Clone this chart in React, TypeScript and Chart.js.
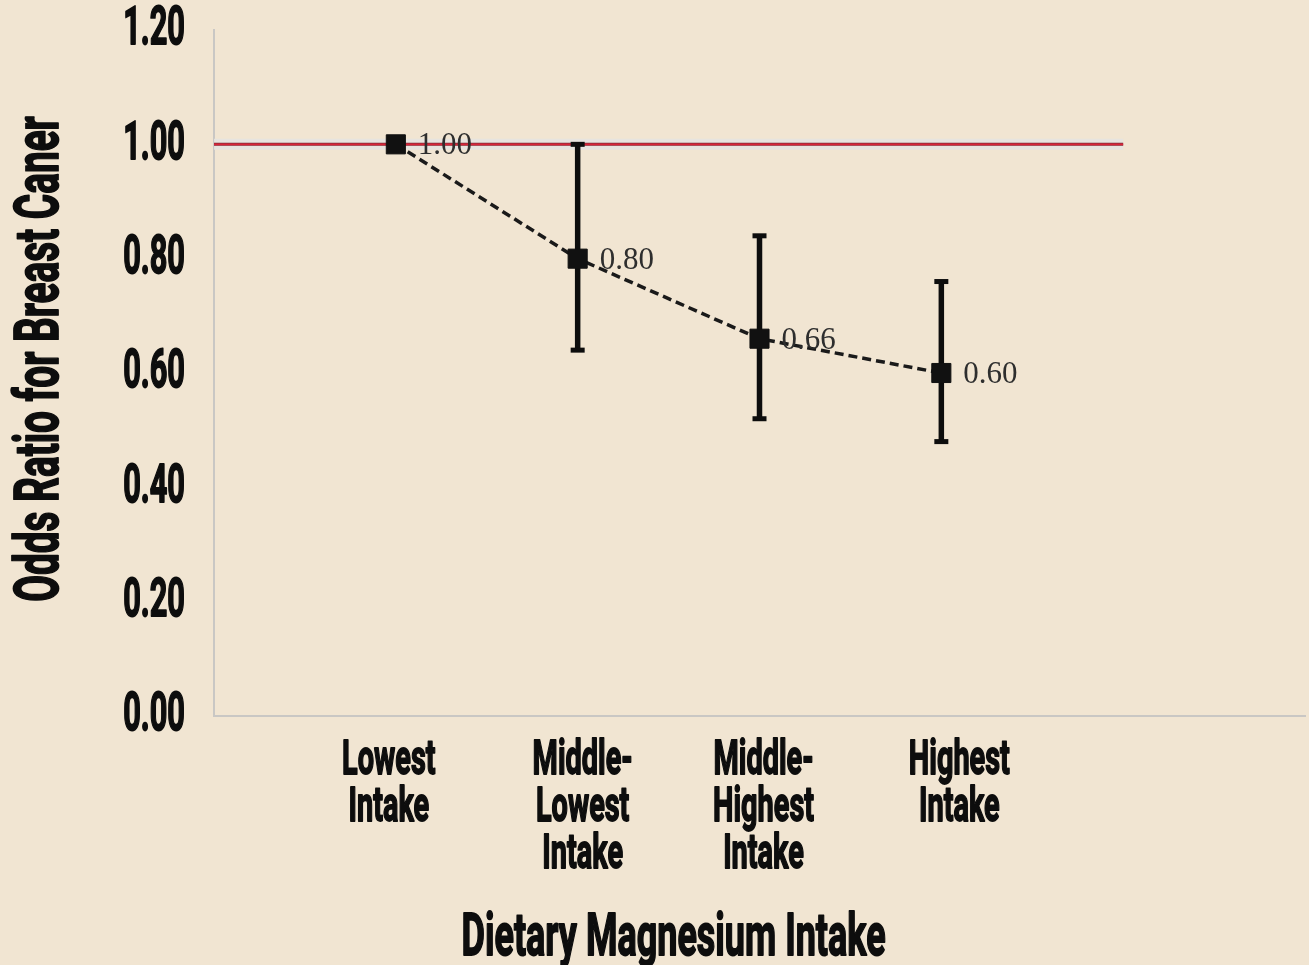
import { useEffect, useRef } from "react";
import { Chart, registerables } from "chart.js";

Chart.register(...registerables);

// ---------- data ----------
const categoryLines: string[][] = [
  ["Lowest", "Intake"],
  ["Middle-", "Lowest", "Intake"],
  ["Middle-", "Highest", "Intake"],
  ["Highest", "Intake"],
];
const categoryPositions = [1, 2, 3, 4];
const oddsRatios = [1.0, 0.8, 0.66, 0.6];
const ciLower: (number | null)[] = [null, 0.64, 0.52, 0.48];
const ciUpper: (number | null)[] = [null, 1.0, 0.84, 0.76];
const yTickValues = [0, 0.2, 0.4, 0.6, 0.8, 1.0, 1.2];
const referenceValue = 1.0;
const referenceSpan = [0, 5];
const xAxisRange = [0, 6];
const xTitle = "Dietary Magnesium Intake";
const yTitle = "Odds Ratio for Breast Caner";

// ---------- styles ----------
const BG = "#f1e5d2";
const INK = "#0d0d0d";
const SANS = "Roboto, 'Liberation Sans', sans-serif";
const labelNudgePx = [-7, 5, 4, 18];

function drawCondensed(
  ctx: CanvasRenderingContext2D,
  text: string,
  x: number,
  y: number,
  size: number,
  sx: number,
  align: CanvasTextAlign,
  baseline: CanvasTextBaseline,
  rotate = 0
) {
  ctx.save();
  ctx.translate(x, y);
  if (rotate) ctx.rotate(rotate);
  ctx.scale(sx, 1);
  ctx.font = `bold ${size}px ${SANS}`;
  ctx.fillStyle = INK;
  ctx.strokeStyle = INK;
  ctx.lineWidth = 1.8;
  ctx.lineJoin = "round";
  ctx.textAlign = align;
  ctx.textBaseline = baseline;
  ctx.strokeText(text, 0, 0);
  ctx.fillText(text, 0, 0);
  ctx.restore();
}

const textLayer = {
  id: "textLayer",
  afterDraw(chart: any) {
    const ctx: CanvasRenderingContext2D = chart.ctx;
    const xs = chart.scales.x;
    const ys = chart.scales.y;
    const area = chart.chartArea;

    // y tick labels
    yTickValues.forEach((v) => {
      drawCondensed(ctx, v.toFixed(2), area.left - 29, ys.getPixelForValue(v) + 1, 53, 0.58, "right", "middle");
    });

    // category labels
    categoryLines.forEach((lines, i) => {
      const x = xs.getPixelForValue(categoryPositions[i]) + labelNudgePx[i];
      lines.forEach((line, j) => {
        drawCondensed(ctx, line, x, area.bottom + 58 + j * 47, 49, 0.59, "center", "alphabetic");
      });
    });

    // x title
    const xMid =
      (xs.getPixelForValue(categoryPositions[0]) +
        xs.getPixelForValue(categoryPositions[categoryPositions.length - 1])) / 2;
    drawCondensed(ctx, xTitle, xMid + 5, area.bottom + 239, 59, 0.61, "center", "alphabetic");

    // y title
    drawCondensed(ctx, yTitle, 58, (area.top + area.bottom) / 2 - 14, 61, 0.635, "center", "alphabetic", -Math.PI / 2);

    // value labels
    const meta = chart.getDatasetMeta(chart.data.datasets.findIndex((d: any) => d.id === "main"));
    ctx.save();
    ctx.font = `31px 'Liberation Serif', 'DejaVu Serif', serif`;
    ctx.fillStyle = "#2e2e2e";
    ctx.textAlign = "left";
    ctx.textBaseline = "middle";
    meta.data.forEach((pt: any, i: number) => {
      ctx.fillText(oddsRatios[i].toFixed(2), pt.x + 22, pt.y + 2);
    });
    ctx.restore();
  },
};

export default function App() {
  const ref = useRef<HTMLCanvasElement>(null);

  useEffect(() => {
    if (!ref.current) return;

    const refData = referenceSpan.map((x) => ({ x, y: referenceValue }));

    const errorSets = categoryPositions
      .map((x, i) => ({ x, lo: ciLower[i], hi: ciUpper[i] }))
      .filter((e) => e.lo !== null && e.hi !== null)
      .map((e) => ({
        id: "err",
        data: [
          { x: e.x, y: e.lo as number },
          { x: e.x, y: e.hi as number },
        ],
        borderColor: INK,
        borderWidth: 5.5,
        pointStyle: "line",
        pointRadius: 7,
        pointBorderWidth: 5,
        pointBorderColor: INK,
        pointBackgroundColor: INK,
        order: 2,
      }));

    const chart = new Chart(ref.current, {
      type: "line",
      data: {
        datasets: [
          {
            id: "main",
            data: categoryPositions.map((x, i) => ({ x, y: oddsRatios[i] })),
            borderColor: "#1a1a1a",
            borderWidth: 3.5,
            borderDash: [9, 5],
            pointStyle: "rect",
            pointRadius: 13.5,
            pointBorderWidth: 1,
            pointBackgroundColor: "#111111",
            pointBorderColor: "#111111",
            order: 1,
          } as any,
          ...(errorSets as any[]),
          {
            id: "refRed",
            data: refData,
            borderColor: "#d92438",
            borderWidth: 1.6,
            pointRadius: 0,
            order: 3,
          },
          {
            id: "refDark",
            data: refData,
            borderColor: "#7e2f3b",
            borderWidth: 3,
            pointRadius: 0,
            order: 4,
          },
          {
            id: "refHalo",
            data: refData,
            borderColor: "rgba(229,227,224,0.9)",
            borderWidth: 11,
            pointRadius: 0,
            order: 5,
          },
        ],
      },
      options: {
        responsive: false,
        animation: false,
        devicePixelRatio: 1,
        events: [],
        layout: { autoPadding: false, padding: { left: 214, right: 4, top: 30, bottom: 249 } },
        plugins: {
          legend: { display: false },
          tooltip: { enabled: false },
        },
        scales: {
          x: {
            type: "linear",
            min: xAxisRange[0],
            max: xAxisRange[1],
            grid: { display: false, drawTicks: false, tickLength: 0 },
            border: { display: true, color: "#c9c7c4", width: 2 },
            ticks: { display: false, padding: 0 },
          },
          y: {
            type: "linear",
            min: yTickValues[0],
            max: yTickValues[yTickValues.length - 1],
            grid: { display: false, drawTicks: false, tickLength: 0 },
            border: { display: true, color: "#c9c7c4", width: 2 },
            ticks: { display: false, padding: 0 },
          },
        },
      },
      plugins: [textLayer],
    });

    return () => chart.destroy();
  }, []);

  return (
    <div
      style={{
        position: "fixed",
        left: 0,
        top: 0,
        width: 1309,
        height: 965,
        background: BG,
      }}
    >
      <canvas ref={ref} width={1309} height={965} style={{ display: "block" }} />
    </div>
  );
}
